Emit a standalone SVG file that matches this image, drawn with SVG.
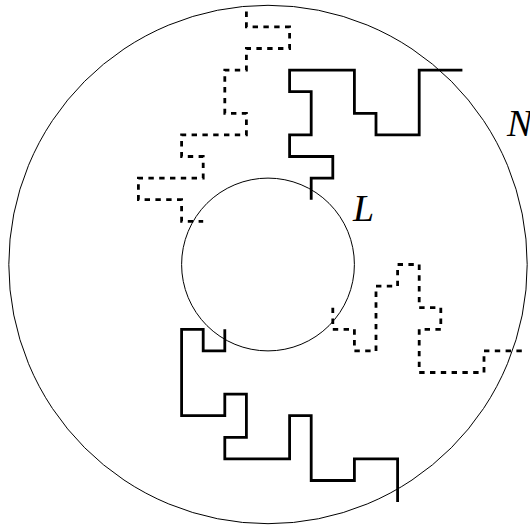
<svg xmlns="http://www.w3.org/2000/svg" width="530" height="528" viewBox="0 0 530 528">
  <style>
    .ring { fill: none; stroke: #000; stroke-width: 1; }
    .walk { fill: none; stroke: #000; stroke-width: 2.8; stroke-linejoin: miter; stroke-linecap: butt; }
    .dash { stroke-dasharray: 5.4 5.4; }
    .lbl { font-family: "Liberation Serif", "DejaVu Serif", serif; font-style: italic; font-size: 38px; fill: #000; }
  </style>
  <rect width="530" height="528" fill="#fff"/>
  <g id="outer-region-N">
    <circle class="ring" cx="268" cy="264.5" r="259.2"/>
    <text class="lbl" x="507" y="136">N</text>
  </g>
  <g id="inner-region-L">
    <circle class="ring" cx="268" cy="264.5" r="86.4"/>
    <text class="lbl" x="353" y="221">L</text>
  </g>
  <g id="paths">
    <path class="walk" d="M311.2,199.7 V178.1 H332.8 V156.5 H289.6 V134.9 H311.2 V91.7 H289.6 V70.1 H354.4 V113.3 H376 V134.9 H419.2 V70.1 H462.4"/>
    <path class="walk dash" d="M246.4,11.5 V26.9 H289.6 V48.5 H246.4 V70.1 H224.8 V113.3 H246.4 V134.9 H181.6 V156.5 H203.2 V178.1 H138.4 V199.7 H181.6 V221.3 H203.2"/>
    <path class="walk dash" d="M332.8,307.7 V329.3 H354.4 V350.9 H376 V286.1 H397.6 V264.5 H419.2 V307.7 H440.8 V329.3 H419.2 V372.5 H484 V350.9 H527.2"/>
    <path class="walk" d="M224.8,329.3 V350.9 H203.2 V329.3 H181.6 V415.7 H224.8 V394.1 H246.4 V437.3 H224.8 V458.9 H289.6 V415.7 H311.2 V480.5 H354.4 V458.9 H397.6 V502.1"/>
  </g>
</svg>
